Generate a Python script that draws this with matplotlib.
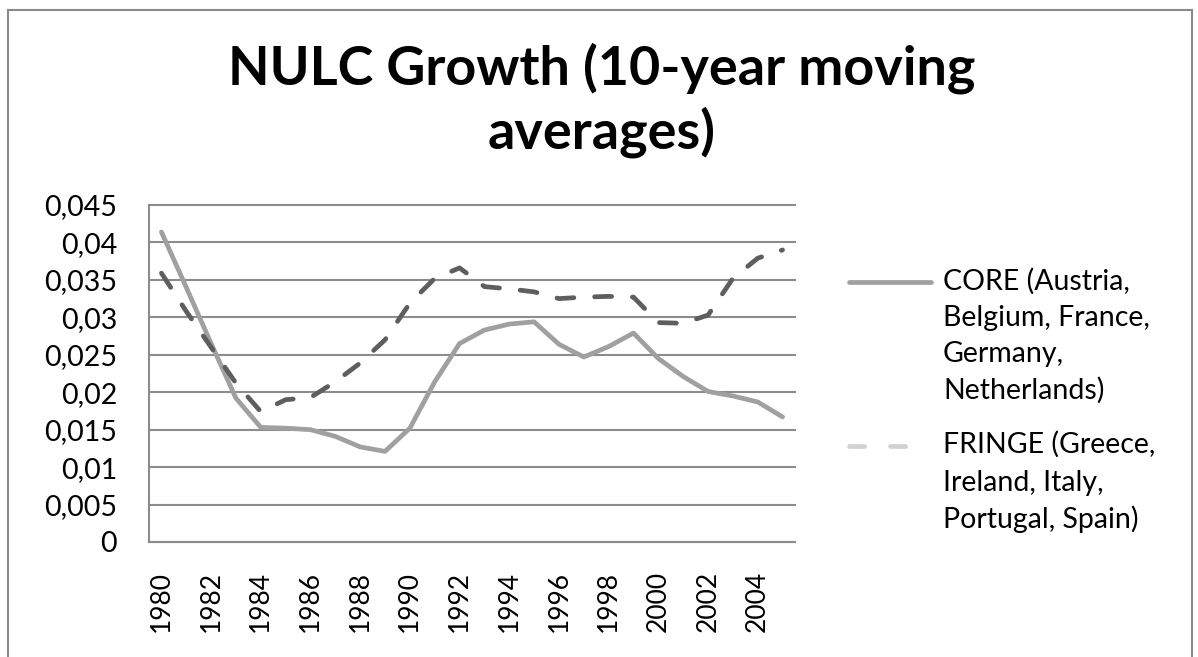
import numpy as np
import matplotlib
matplotlib.use('Agg')
import matplotlib.pyplot as plt
from matplotlib.lines import Line2D
from matplotlib.patches import Rectangle

# --- DATA ---
years = list(range(1980, 2006))
core = [0.0414, 0.0340, 0.0265, 0.0192, 0.0153, 0.0152, 0.0150, 0.0141, 0.0127, 0.0121,
        0.0152, 0.0214, 0.0265, 0.0283, 0.0291, 0.0294, 0.0264, 0.0247, 0.0261, 0.0279,
        0.0245, 0.0221, 0.0201, 0.0195, 0.0187, 0.0167]
fringe = [0.0359, 0.0308, 0.0260, 0.0212, 0.0174, 0.0190, 0.0193, 0.0214, 0.0239, 0.0270,
          0.0319, 0.0352, 0.0366, 0.0341, 0.0338, 0.0334, 0.0325, 0.0327, 0.0328, 0.0327,
          0.0293, 0.0292, 0.0303, 0.0352, 0.0379, 0.0390]
y_ticks = [0, 0.005, 0.01, 0.015, 0.02, 0.025, 0.03, 0.035, 0.04, 0.045]
y_labels = ['0', '0,005', '0,01', '0,015', '0,02', '0,025', '0,03', '0,035', '0,04', '0,045']
x_labels = [str(y) for y in years[::2]]
title_lines = ['NULC Growth (10-year moving', 'averages)']
core_label = ['CORE (Austria,', 'Belgium, France,', 'Germany,', 'Netherlands)']
fringe_label = ['FRINGE (Greece,', 'Ireland, Italy,', 'Portugal, Spain)']

# --- STYLE ---
W, H = 1198, 657
FONT = 'Lato'
GRID = '#8c8c8c'
CORE_COL = '#a0a0a0'
FRINGE_COL = '#5e5e5e'
FRINGE_LEG = '#d2d2d2'
LW = 3.4
DASH = (3.6, 4.4)


def fx(px):
    return px / W


def fy(py):
    return 1 - py / H


plt.rcParams['font.family'] = [FONT, 'DejaVu Sans']

fig = plt.figure(figsize=(W / 100, H / 100), dpi=100)
fig.patch.set_facecolor('white')

# outer chart border
fig.add_artist(Rectangle((fx(8), -0.1), fx(1192) - fx(8), fy(10) + 0.1,
                         transform=fig.transFigure, fill=False,
                         edgecolor='#8a8a8a', linewidth=1.5))

ax = fig.add_axes([fx(149), fy(542), fx(795) - fx(149), fy(205) - fy(542)])
x = np.arange(len(years))

ax.plot(x, core, color=CORE_COL, linewidth=LW, solid_capstyle='round',
        solid_joinstyle='round', zorder=3)
ax.plot(x, fringe, color=FRINGE_COL, linewidth=LW, dashes=DASH,
        dash_capstyle='round', dash_joinstyle='round', zorder=4)

ax.set_xlim(-0.5, len(years) - 0.5)
ax.set_ylim(0, 0.045)
ax.set_yticks(y_ticks)
ax.set_yticklabels(y_labels)
ax.set_xticks(x[::2])
ax.set_xticklabels(x_labels, rotation=90)
ax.tick_params(axis='y', length=0, pad=23, labelsize=20.5)
ax.tick_params(axis='x', length=0, pad=21, labelsize=19)

ax.yaxis.grid(True, color=GRID, linewidth=1.5)
ax.set_axisbelow(True)
for s in ['top', 'right']:
    ax.spines[s].set_visible(False)
for s in ['left', 'bottom']:
    ax.spines[s].set_color(GRID)
    ax.spines[s].set_linewidth(1.5)
for gl in ax.yaxis.get_gridlines():
    gl.set_clip_on(False)

# title
fig.text(fx(602), fy(85), title_lines[0], ha='center', va='baseline',
         fontsize=38.8, fontweight='bold')
fig.text(fx(602), fy(148), title_lines[1], ha='center', va='baseline',
         fontsize=38.8, fontweight='bold')

# legend (drawn by hand so handles sit beside the first text line, as in Excel)
fig.add_artist(Line2D([fx(849), fx(931)], [fy(282), fy(282)], transform=fig.transFigure,
                      color=CORE_COL, linewidth=LW, solid_capstyle='round'))
fig.add_artist(Line2D([fx(849), fx(931)], [fy(446), fy(446)], transform=fig.transFigure,
                      color=FRINGE_LEG, linewidth=LW, dashes=(3.2, 5.5),
                      dash_capstyle='round'))
for i, line in enumerate(core_label):
    fig.text(fx(943), fy(290 + i * 36.2), line, ha='left', va='baseline', fontsize=20.5)
for i, line in enumerate(fringe_label):
    fig.text(fx(943), fy(453 + i * 37.5), line, ha='left', va='baseline', fontsize=20.5)

fig.savefig('out.png', dpi=100)
